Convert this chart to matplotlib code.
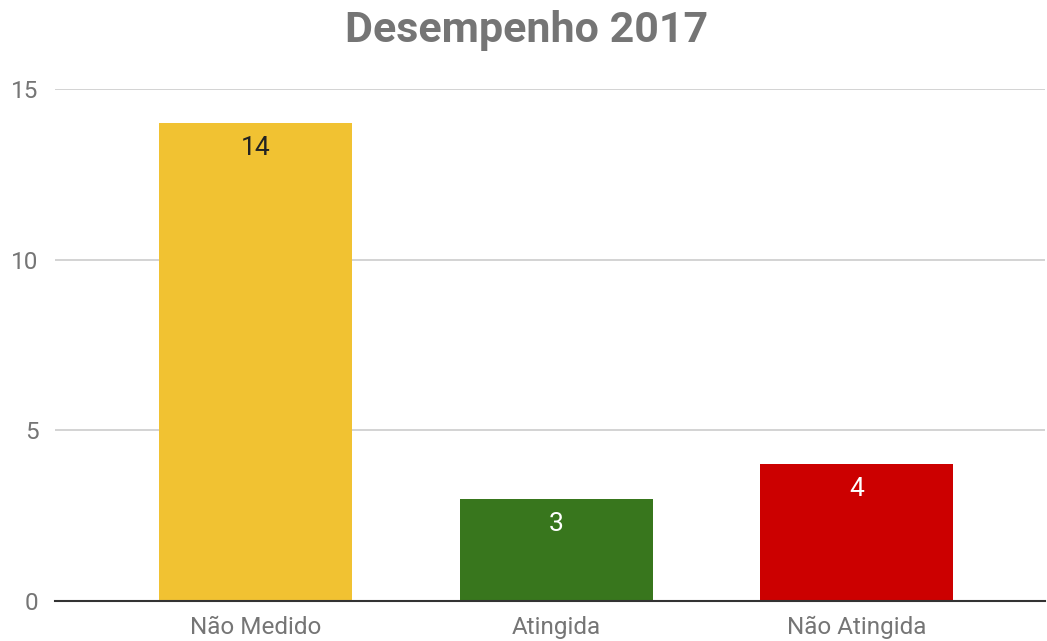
import matplotlib
matplotlib.use("Agg")
import matplotlib.pyplot as plt

categories = ["Não Medido", "Atingida", "Não Atingida"]
values = [14, 3, 4]
colors = ["#F1C232", "#38761D", "#CC0000"]
label_colors = ["#222222", "#ffffff", "#ffffff"]
yticks = [0, 5, 10, 15]

plt.rcParams['font.family'] = ['Roboto', 'DejaVu Sans']

fig = plt.figure(figsize=(10.47, 6.41), dpi=100)
ax = fig.add_axes([0.0525, 0.0624, 0.9455, 0.7988])

x = list(range(len(categories)))
bars = ax.bar(x, values, width=0.643, color=colors, zorder=3)
for xi, v, lc in zip(x, values, label_colors):
    ax.annotate(str(v), (xi, v), xytext=(0, -25), textcoords="offset pixels",
                ha="center", va="center", fontsize=19, color=lc, zorder=4)

ax.set_xlim(-0.669, 2.627)
ax.set_ylim(0, 15)
ax.set_yticks(yticks)
ax.set_xticks(x)
ax.set_xticklabels(categories)
ax.tick_params(axis="both", length=0, labelsize=17.5, colors="#757575")
ax.tick_params(axis="x", pad=11)
ax.tick_params(axis="y", pad=12)
ax.grid(axis="y", color="#cccccc", linewidth=1.2, zorder=0)
for s in ["top", "right", "left"]:
    ax.spines[s].set_visible(False)
ax.spines["bottom"].set_color("#333333")
ax.spines["bottom"].set_linewidth(1.5)
ax.spines["bottom"].set_zorder(5)

fig.suptitle("Desempenho 2017", x=0.503, y=0.985, va="top", fontsize=31,
             fontweight="bold", color="#757575")

fig.savefig("out.png", dpi=100)
